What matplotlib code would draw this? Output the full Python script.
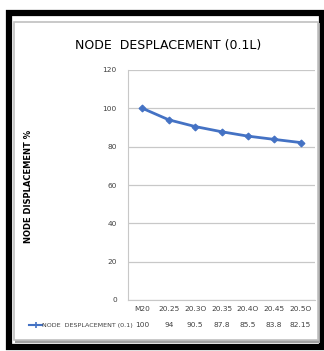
import matplotlib
matplotlib.use("Agg")
import matplotlib.pyplot as plt
from matplotlib.patches import Rectangle

# chart data
categories = ["M20", "20.25", "20.3O", "20.35", "20.4O", "20.45", "20.5O"]
values = [100, 94, 90.5, 87.8, 85.5, 83.8, 82.15]
value_labels = ["100", "94", "90.5", "87.8", "85.5", "83.8", "82.15"]
y_ticks = [0, 20, 40, 60, 80, 100, 120]
series_name = "NODE  DESPLACEMENT (0.1)"

plt.rcParams["font.family"] = ["DejaVu Sans"]

W, H = 324, 351
fig = plt.figure(figsize=(W / 100, H / 100), dpi=100)
fig.patch.set_facecolor("white")

# outer black frame and inner gray chart frame (with shadow)
fig.patches.append(Rectangle((9 / W, 1 - 347 / H), 313 / W, 334 / H,
                             transform=fig.transFigure, fill=False,
                             edgecolor="black", linewidth=4.5, zorder=-3))
fig.patches.append(Rectangle((15 / W, 1 - 343 / H), 305 / W, 320 / H,
                             transform=fig.transFigure, facecolor="#a0a0a0",
                             edgecolor="none", zorder=-2))
fig.patches.append(Rectangle((14 / W, 1 - 340 / H), 304 / W, 318 / H,
                             transform=fig.transFigure, facecolor="white",
                             edgecolor="#c0c0c0", linewidth=1.2, zorder=-1))

left, right, top, bottom = 128, 315, 70, 300
ax = fig.add_axes([left / W, 1 - bottom / H, (right - left) / W, (bottom - top) / H])
ax.set_facecolor("none")
ax.set_zorder(2)

x = list(range(len(categories)))
ax.plot(x, values, color="#4472C4", linewidth=2, marker="D", markersize=3.5,
        markeredgewidth=0.8, zorder=3)

ax.set_xlim(-0.55, len(categories) - 0.45)
ax.set_ylim(0, 120)
ax.set_yticks(y_ticks)
ax.set_yticklabels([str(t) for t in y_ticks], fontsize=5.3, color="#404040")
ax.yaxis.grid(True, color="#c8c8c8", linewidth=0.9)
ax.set_axisbelow(True)
ax.tick_params(axis="y", length=0, pad=8)
ax.set_xticks([])
for s in ["top", "right"]:
    ax.spines[s].set_visible(False)
ax.spines["left"].set_color("#c8c8c8")
ax.spines["bottom"].set_color("#c8c8c8")

# data table below the plot
for i, (c, v) in enumerate(zip(categories, value_labels)):
    ax.text(i, -0.04, c, transform=ax.get_xaxis_transform(), ha="center",
            va="center", fontsize=5.3, color="#404040")
    ax.text(i, -0.11, v, transform=ax.get_xaxis_transform(), ha="center",
            va="center", fontsize=5.3, color="#404040")

fig.text(42 / W, 1 - 325 / H, series_name, fontsize=4.6, color="#404040",
         ha="left", va="center")
fig.lines.append(plt.Line2D([29 / W, 42 / W], [1 - 325 / H, 1 - 325 / H],
                            transform=fig.transFigure, color="#4472C4",
                            linewidth=1.5))
fig.lines.append(plt.Line2D([35.5 / W], [1 - 325 / H], transform=fig.transFigure,
                            color="#4472C4", marker="+", markersize=4,
                            markeredgewidth=1.2))

fig.text(168 / W, 1 - 45 / H, "NODE  DESPLACEMENT (0.1L)", fontsize=9,
         fontweight="medium", ha="center", va="center", color="black")
fig.text(29 / W, 1 - 186 / H, "NODE DISPLACEMENT %", fontsize=6,
         fontweight="bold", rotation=90, ha="center", va="center")

fig.savefig("out.png", dpi=100)
